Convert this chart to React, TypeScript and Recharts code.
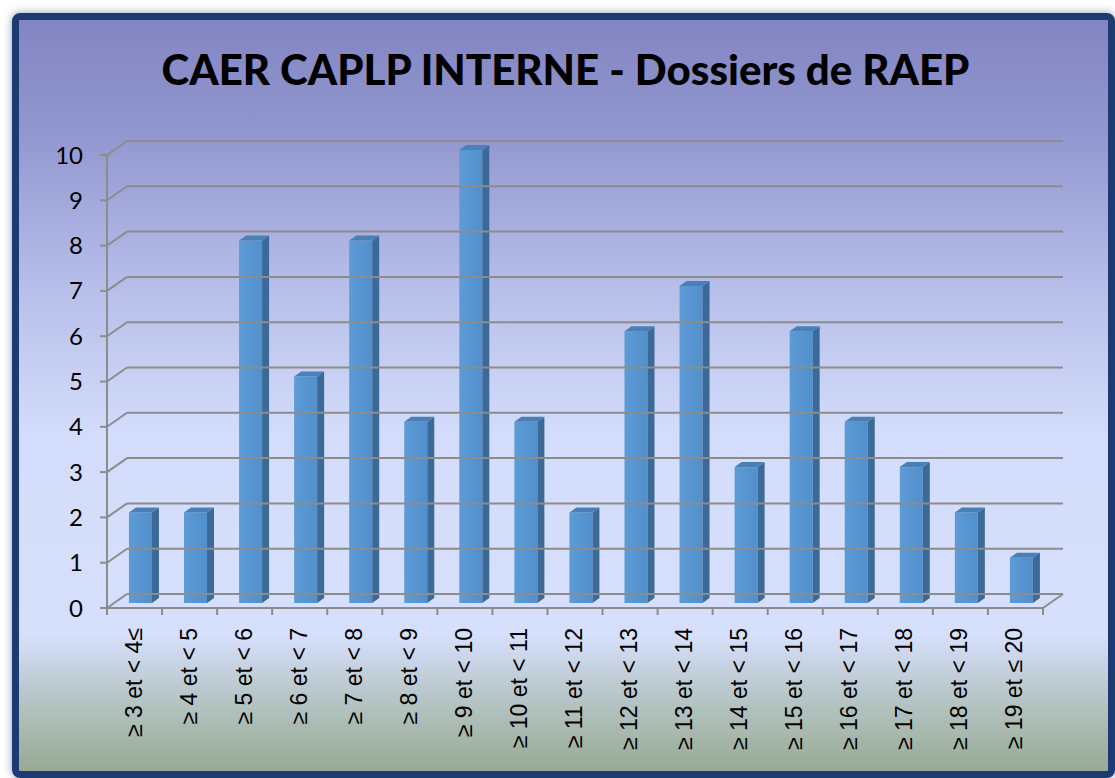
import React from 'react';
import { BarChart, Bar, XAxis, YAxis, ReferenceLine } from 'recharts';

const categories = [
  '≥ 3 et < 4≤', '≥ 4 et < 5', '≥ 5 et < 6', '≥ 6 et < 7', '≥ 7 et < 8', '≥ 8 et < 9',
  '≥ 9 et < 10', '≥ 10 et < 11', '≥ 11 et < 12', '≥ 12 et < 13', '≥ 13 et < 14',
  '≥ 14 et < 15', '≥ 15 et < 16', '≥ 16 et < 17', '≥ 17 et < 18', '≥ 18 et < 19', '≥ 19 et ≤ 20',
];
const dossiers = [2, 2, 8, 5, 8, 4, 10, 4, 2, 6, 7, 3, 6, 4, 3, 2, 1];
const yTicks = [0, 1, 2, 3, 4, 5, 6, 7, 8, 9, 10];

const data = categories.map((name, i) => ({ name, value: dossiers[i] }));

// depth of the 3D back wall
const DX = 20;
const DY = -14;
const GRID = '#8c8c8c';

function GridLine(props: any) {
  const { x1, y1, x2, y2, value } = props;
  return (
    <g>
      <line x1={x1} y1={y1} x2={x1 + DX} y2={y1 + DY} stroke={GRID} strokeWidth={2} />
      <line x1={x1 + DX} y1={y1 + DY} x2={x2 + DX} y2={y2 + DY} stroke={GRID} strokeWidth={2} />
      {value === 0 && (
        <line x1={x2} y1={y2} x2={x2 + DX} y2={y2 + DY} stroke={GRID} strokeWidth={2} />
      )}
    </g>
  );
}

function Bar3D(props: any) {
  const { x, y, width, height } = props;
  if (!height) return null;
  const fx = x + 6;
  const fy = y - 5;
  const dx = 7;
  const dy = -5;
  return (
    <g>
      <rect x={fx} y={fy} width={width} height={height} fill="url(#barFront)" />
      <polygon
        points={`${fx + width},${fy} ${fx + width + dx},${fy + dy} ${fx + width + dx},${fy + height + dy} ${fx + width},${fy + height}`}
        fill="#3b6a98"
      />
      <polygon
        points={`${fx},${fy} ${fx + dx},${fy + dy} ${fx + width + dx},${fy + dy} ${fx + width},${fy}`}
        fill="#4b80b6"
      />
    </g>
  );
}

function CategoryTick(props: any) {
  const { x, y, payload, index } = props;
  const half = payload && payload.offset ? payload.offset : 27.5;
  return (
    <g>
      <line x1={x - half} y1={y - 8} x2={x - half} y2={y - 1} stroke={GRID} strokeWidth={2} />
      {index === categories.length - 1 && (
        <line x1={x + half} y1={y - 8} x2={x + half} y2={y - 1} stroke={GRID} strokeWidth={2} />
      )}
      <text
        x={0}
        y={0}
        transform={`translate(${x + 7},${y + 12}) rotate(-90)`}
        textAnchor="end"
        fontFamily="'Liberation Sans', Arial, sans-serif"
        fontSize={23}
        fill="#000"
      >
        {payload.value}
      </text>
    </g>
  );
}

export default function App() {
  return (
    <div
      style={{
        position: 'absolute',
        left: 0,
        top: 0,
        width: 1115,
        height: 778,
        background: '#fff',
        overflow: 'hidden',
      }}
    >
      <div
        style={{
          position: 'absolute',
          left: 12,
          top: 13,
          width: 1103,
          height: 765,
          boxSizing: 'border-box',
          border: '7px solid #1e3a72',
          borderRadius: 8,
          boxShadow: '0 0 8px rgba(30,58,114,0.5)',
          background:
            'linear-gradient(to bottom, #8385c2 0%, #9197cf 15%, #b6bde9 35%, #d3dcfa 55%, #d6dffb 82%, #b7c6c8 90%, #97aa92 100%)',
        }}
      />
      <div
        style={{
          position: 'absolute',
          left: 0,
          width: 1131,
          top: 44,
          textAlign: 'center',
          fontFamily: 'Lato, "Open Sans", sans-serif',
          fontWeight: 900,
          fontSize: 42,
          color: '#000',
        }}
      >
        CAER CAPLP INTERNE - Dossiers de RAEP
      </div>
      <div style={{ position: 'absolute', left: 0, top: 0 }}>
        <BarChart
          width={1115}
          height={778}
          data={data}
          margin={{ top: 155, right: 72, bottom: 20, left: 47 }}
          barCategoryGap="29%"
        >
          <defs>
            <linearGradient id="barFront" x1="0" y1="0" x2="1" y2="0">
              <stop offset="0%" stopColor="#5c9bd6" />
              <stop offset="100%" stopColor="#5290cc" />
            </linearGradient>
          </defs>
          <XAxis
            dataKey="name"
            interval={0}
            height={150}
            axisLine={{ stroke: GRID, strokeWidth: 2 }}
            tickLine={false}
            tick={<CategoryTick />}
          />
          <YAxis
            width={60}
            domain={[0, 10]}
            ticks={yTicks}
            interval={0}
            axisLine={{ stroke: GRID, strokeWidth: 2 }}
            tickLine={{ stroke: GRID, strokeWidth: 2 }}
            tickSize={7}
            tickMargin={17}
            tick={{ fill: '#000', fontSize: 24, fontFamily: 'Lato, sans-serif' }}
          />
          {yTicks.map((v) => (
            <ReferenceLine
              key={v}
              y={v}
              stroke={GRID}
              shape={(p: any) => <GridLine {...p} value={v} />}
            />
          ))}
          <Bar dataKey="value" shape={<Bar3D />} isAnimationActive={false} />
        </BarChart>
      </div>
    </div>
  );
}
